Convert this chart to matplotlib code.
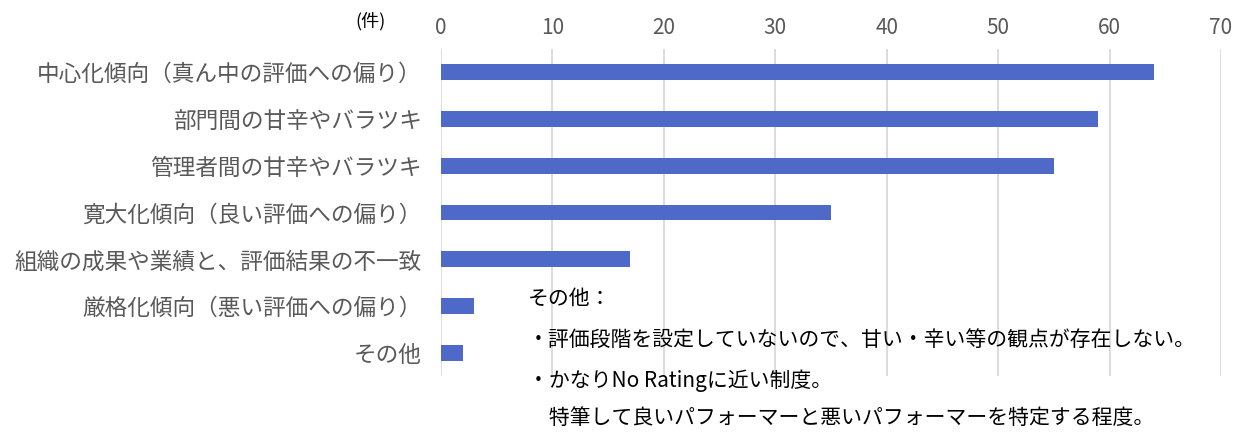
import matplotlib.pyplot as plt

plt.rcParams['font.family'] = ['Noto Sans CJK JP', 'DejaVu Sans']

categories = [
    '中心化傾向（真ん中の評価への偏り）',
    '部門間の甘辛やバラツキ',
    '管理者間の甘辛やバラツキ',
    '寛大化傾向（良い評価への偏り）',
    '組織の成果や業績と、評価結果の不一致',
    '厳格化傾向（悪い評価への偏り）',
    'その他',
]
counts = [64, 59, 55, 35, 17, 3, 2]
x_ticks = [0, 10, 20, 30, 40, 50, 60, 70]
note_lines = [
    'その他：',
    '・評価段階を設定していないので、甘い・辛い等の観点が存在しない。',
    '・かなりNo Ratingに近い制度。',
    '　特筆して良いパフォーマーと悪いパフォーマーを特定する程度。',
]

fig = plt.figure(figsize=(12.43, 4.34), dpi=100)
ax = fig.add_axes([0.3548, 0.1325, 0.6275, 0.7557])

y = list(range(len(categories)))
ax.barh(y, counts, height=0.34, color='#4E69C8', zorder=3)
ax.set_ylim(len(categories) - 0.5, -0.5)
ax.set_xlim(0, 70)
ax.set_xticks(x_ticks)
ax.set_yticks(y)
ax.set_yticklabels(categories, fontsize=16.3, color='#595959')
ax.xaxis.tick_top()
ax.tick_params(axis='x', length=0, labelsize=15, labelcolor='#595959', pad=7)
ax.tick_params(axis='y', length=0, pad=14)
ax.grid(axis='x', color='#D9D9D9', linewidth=1.3, zorder=0)
for s in ax.spines.values():
    s.set_visible(False)

fig.text(0.298, 0.952, '(件)', fontsize=13, color='black', ha='center', va='center')

ys = [299, 340, 381, 418]
for t, py in zip(note_lines, ys):
    fig.text(528 / 1243, 1 - py / 434, t, fontsize=15, color='black',
             ha='left', va='center')

fig.savefig('out.png', dpi=100)
